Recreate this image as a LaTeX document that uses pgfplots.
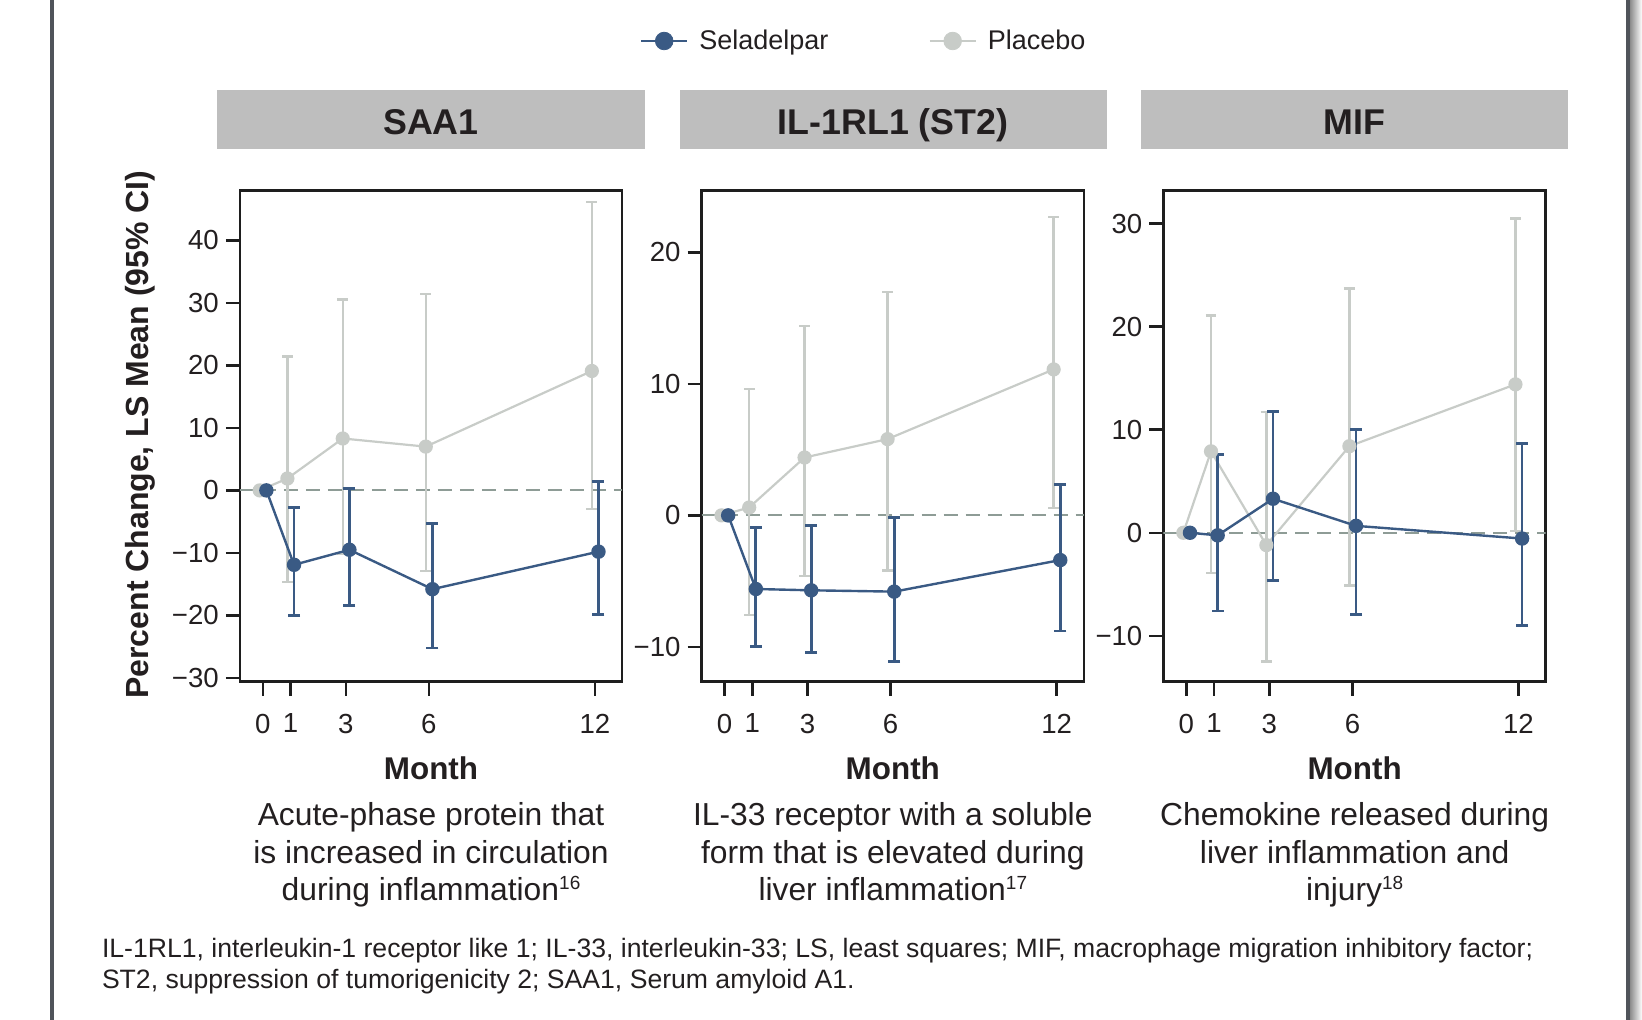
\documentclass[border=0pt]{standalone}
\usepackage{pgfplots}
\pgfplotsset{compat=1.18}
\usepackage{fontspec}
\setmainfont{Liberation Sans}
\definecolor{sela}{HTML}{3A5A84}
\definecolor{plac}{HTML}{C8CCC8}
\definecolor{zl}{HTML}{8E9C96}
\definecolor{hdr}{HTML}{BEBEBE}
\definecolor{txt}{HTML}{231F20}
\definecolor{frm}{HTML}{1E1E1E}
\definecolor{brd}{HTML}{50545A}
\newcommand{\sref}[1]{\raisebox{5.3pt}{\fontsize{9.5}{10}\selectfont #1}}
\pgfplotsset{
 panel/.style={
  scale only axis, width=191.1pt, height=245.55pt,
  anchor=north west,
  xmin=-0.83, xmax=12.98,
  xtick={0,1,3,6,12}, xticklabels={0,1,3,6,12},
  axis line style={line width=1.25pt, draw=frm},
  tick style={line width=1.25pt, draw=frm},
  tick align=outside, major tick length=7pt,
  xtick pos=left, ytick pos=left,
  ticklabel style={font=\fontsize{13.8}{16}\selectfont, text=txt},
  xticklabel style={yshift=-5.5pt},
 },
 placstyle/.style={draw=plac, line width=1.1pt, mark=*, mark size=3pt,
  mark options={fill=plac, draw=plac},
  error bars/y dir=both, error bars/y explicit,
  error bars/error bar style={line width=1.2pt, draw=plac},
  error bars/error mark options={rotate=90, mark size=2.7pt, line width=1.2pt, draw=plac}},
 selastyle/.style={draw=sela, line width=1.2pt, mark=*, mark size=3pt,
  mark options={fill=sela, draw=sela},
  error bars/y dir=both, error bars/y explicit,
  error bars/error bar style={line width=1.4pt, draw=sela},
  error bars/error mark options={rotate=90, mark size=3pt, line width=1.4pt, draw=sela}},
 zerostyle/.style={draw=zl, line width=1pt, dash pattern=on 7pt off 4pt, forget plot},
}
\begin{document}
\begin{tikzpicture}
\useasboundingbox (0,0) rectangle (821pt,-510pt);
% ---------------- Panel 1: SAA1
\begin{axis}[panel, at={(119.9pt,-95.3pt)}, ymin=-30.6, ymax=47.95,
  ytick={-30,-20,-10,0,10,20,30,40},
  yticklabels={−30,−20,−10,0,10,20,30,40}]
\addplot[zerostyle] coordinates {(-0.83,0) (12.98,0)};
\addplot[forget plot, placstyle] coordinates {
 (-0.11,0)
 (0.89,1.9) += (0,19.5) -= (0,16.6)
 (2.89,8.3) += (0,22.2) -= (0,18.4)
 (5.89,7.0) += (0,24.4) -= (0,19.9)
 (11.89,19.1) += (0,27.0) -= (0,22.1)
};
\addplot[forget plot, selastyle] coordinates {
 (0.13,0)
 (1.13,-11.9) += (0,9.1) -= (0,8.1)
 (3.13,-9.5) += (0,9.8) -= (0,8.9)
 (6.13,-15.8) += (0,10.5) -= (0,9.4)
 (12.13,-9.8) += (0,11.2) -= (0,10.0)
};
\end{axis}
% ---------------- Panel 2: IL-1RL1
\begin{axis}[panel, at={(350.8pt,-95.3pt)}, ymin=-12.65, ymax=24.7,
  ytick={-10,0,10,20},
  yticklabels={−10,0,10,20},
  legend columns=2,
  legend style={draw=none, fill=none, inner sep=0pt, outer sep=0pt,
    at={(axis description cs:-0.1612,1.3046)}, anchor=west,
    font=\fontsize{13.5}{16}\selectfont, text=txt,
    nodes={inner sep=1pt},
    /tikz/every odd column/.append style={column sep=4.5pt},
    /tikz/every even column/.append style={column sep=49pt}},
  legend image code/.code={
    \draw[#1, line width=1.2pt] (0pt,0pt) -- (23pt,0pt);
    \fill[#1] (11.5pt,0pt) circle (4.4pt);}]
\addlegendimage{sela}
\addlegendentry{Seladelpar}
\addlegendimage{plac}
\addlegendentry{Placebo}
\addplot[zerostyle] coordinates {(-0.83,0) (12.98,0)};
\addplot[forget plot, placstyle] coordinates {
 (-0.11,0)
 (0.89,0.6) += (0,9.0) -= (0,8.2)
 (2.89,4.4) += (0,10.0) -= (0,9.0)
 (5.89,5.8) += (0,11.2) -= (0,10.0)
 (11.89,11.1) += (0,11.6) -= (0,10.55)
};
\addplot[forget plot, selastyle] coordinates {
 (0.13,0)
 (1.13,-5.6) += (0,4.66) -= (0,4.4)
 (3.13,-5.7) += (0,4.92) -= (0,4.7)
 (6.13,-5.8) += (0,5.63) -= (0,5.3)
 (12.13,-3.4) += (0,5.75) -= (0,5.4)
};
\end{axis}
% ---------------- Panel 3: MIF
\begin{axis}[panel, at={(581.7pt,-95.3pt)}, ymin=-14.45, ymax=33.2,
  ytick={-10,0,10,20,30},
  yticklabels={−10,0,10,20,30}]
\addplot[zerostyle] coordinates {(-0.83,0) (12.98,0)};
\addplot[forget plot, placstyle] coordinates {
 (-0.11,0)
 (0.89,7.9) += (0,13.2) -= (0,11.8)
 (2.89,-1.2) += (0,12.9) -= (0,11.3)
 (5.89,8.4) += (0,15.3) -= (0,13.5)
 (11.89,14.4) += (0,16.1) -= (0,14.25)
};
\addplot[forget plot, selastyle] coordinates {
 (0.13,0)
 (1.13,-0.25) += (0,7.85) -= (0,7.35)
 (3.13,3.3) += (0,8.5) -= (0,7.9)
 (6.13,0.67) += (0,9.33) -= (0,8.57)
 (12.13,-0.56) += (0,9.26) -= (0,8.44)
};
\end{axis}
% ---------------- Decorations and texts (pixel coordinates)
\begin{scope}[x=0.5pt,y=-0.5pt, every node/.style={text=txt, inner sep=0pt}]
\fill[brd] (50,0) rectangle (54,1020);
\fill[brd] (1626,0) rectangle (1630,1020);
\shade[left color=black!45, right color=white] (1630,0) rectangle (1642,1020);
\fill[hdr] (217,90) rectangle (645,149);
\fill[hdr] (680,90) rectangle (1107,149);
\fill[hdr] (1141,90) rectangle (1568,149);
\node[anchor=base, font=\bfseries\fontsize{17.9}{21}\selectfont] at (431,134.5) {SAA1};
\node[anchor=base, font=\bfseries\fontsize{17.9}{21}\selectfont] at (893,134.5) {IL-1RL1 (ST2)};
\node[anchor=base, font=\bfseries\fontsize{17.9}{21}\selectfont] at (1354.6,134.5) {MIF};
\node[rotate=90, font=\bfseries\fontsize{16}{19}\selectfont] at (140,434.6) {Percent Change, LS Mean (95\% CI)};
\foreach \cx in {431,892.8,1354.6}{
  \node[anchor=base, font=\bfseries\fontsize{15.7}{18}\selectfont] at (\cx,779.5) {Month};
}
\begin{scope}[every node/.append style={anchor=base, font=\fontsize{15.9}{19}\selectfont}]
\node at (431,825) {Acute-phase protein that};
\node at (431,863) {is increased in circulation};
\node at (431,900) {during inflammation\sref{16}};
\node at (892.8,825) {IL-33 receptor with a soluble};
\node at (892.8,863) {form that is elevated during};
\node at (892.8,900) {liver inflammation\sref{17}};
\node at (1354.6,825) {Chemokine released during};
\node at (1354.6,863) {liver inflammation and};
\node at (1354.6,900) {injury\sref{18}};
\end{scope}
\node[anchor=base west, font=\fontsize{13.3}{15}\selectfont] at (101.6,957) {IL-1RL1, interleukin-1 receptor like 1; IL-33, interleukin-33; LS, least squares; MIF, macrophage migration inhibitory factor;};
\node[anchor=base west, font=\fontsize{13.3}{15}\selectfont] at (101.6,988) {ST2, suppression of tumorigenicity 2; SAA1, Serum amyloid A1.};
\end{scope}
\end{tikzpicture}
\end{document}
